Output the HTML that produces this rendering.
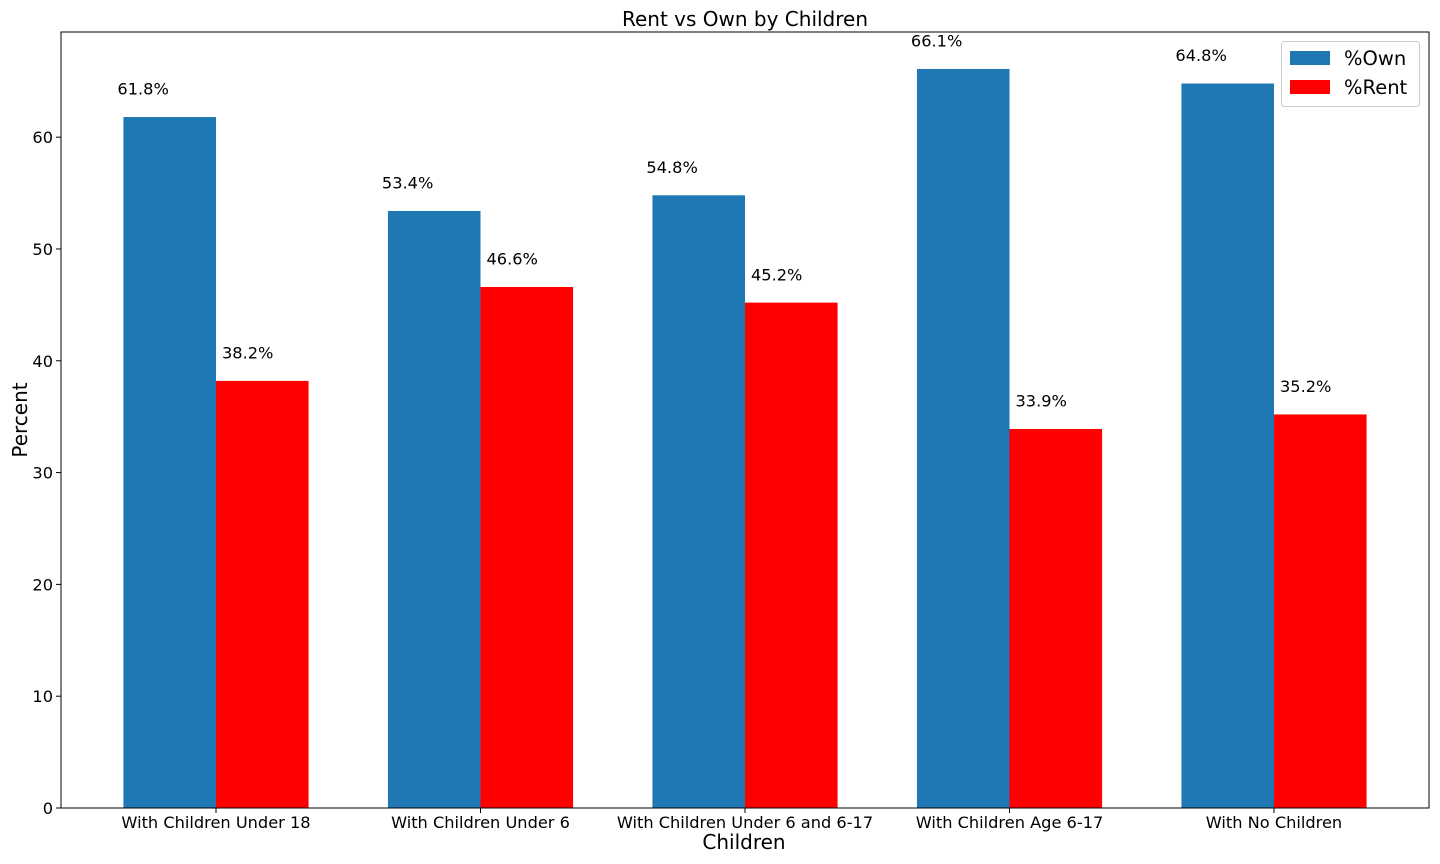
<!DOCTYPE html>
<html><head><meta charset="utf-8"><style>
html,body{margin:0;padding:0;background:#fff;}
svg{display:block;font-family:"DejaVu Sans","Liberation Sans",sans-serif;}
</style></head><body>
<svg id="chart" width="1440" height="864">
<text x="745" y="26" font-size="20" text-anchor="middle">Rent vs Own by Children</text>
<g id="bars"></g>
<g id="yticks"></g>
<g id="xticks"></g>
<rect x="61" y="32" width="1368" height="776" fill="none" stroke="#000" stroke-width="1"/>
<text x="744" y="849" font-size="20" text-anchor="middle">Children</text>
<text transform="translate(27,420) rotate(-90)" font-size="20" text-anchor="middle">Percent</text>
<g>
<rect x="1281.5" y="41.5" width="138" height="65" rx="3" fill="#fff" stroke="#ccc"/>
<rect x="1290" y="51" width="40" height="14" fill="#1f77b4"/>
<text x="1344" y="65" font-size="19.5">%Own</text>
<rect x="1290" y="80" width="40" height="14" fill="#ff0000"/>
<text x="1344" y="94" font-size="19.5">%Rent</text>
</g>
</svg>
<script>
const categories = ["With Children Under 18","With Children Under 6","With Children Under 6 and 6-17","With Children Age 6-17","With No Children"];
const ownValues = [61.8, 53.4, 54.8, 66.1, 64.8];
const rentValues = [38.2, 46.6, 45.2, 33.9, 35.2];
const yTicks = [0,10,20,30,40,50,60];

const NS="http://www.w3.org/2000/svg";
const plotL=61, plotR=1429, plotT=32, plotB=808;
const yMax=69.405;
const xMin=-0.586, xMax=categories.length-1+0.586;
const barW=0.35;
function xs(v){return plotL+(v-xMin)/(xMax-xMin)*(plotR-plotL);}
function ys(v){return plotB-v/yMax*(plotB-plotT);}
function mk(tag,attrs,parent){const e=document.createElementNS(NS,tag);for(const k in attrs)e.setAttribute(k,attrs[k]);parent.appendChild(e);return e;}
const bars=document.getElementById('bars'), yt=document.getElementById('yticks'), xt=document.getElementById('xticks');
const series=[{vals:ownValues,color:"#1f77b4",off:-barW,name:"own",dx:-6},{vals:rentValues,color:"#ff0000",off:0,name:"rent",dx:6}];
series.forEach(s=>{
  s.vals.forEach((v,i)=>{
    const x0=xs(i+s.off), x1=xs(i+s.off+barW);
    const r=mk('rect',{x:x0,y:ys(v),width:x1-x0,height:plotB-ys(v),fill:s.color},bars);
    
    
    const t=mk('text',{x:x0+s.dx,y:ys(v+2),'font-size':16.2},bars);
    t.textContent=v.toFixed(1)+'%';
    
    
  });
});
yTicks.forEach(v=>{
  const y=ys(v);
  const l=mk('line',{x1:plotL-5,x2:plotL,y1:y,y2:y,stroke:'#000'},yt);
  
  
  const t=mk('text',{x:plotL-8,y:y+6,'font-size':16.2,'text-anchor':'end'},yt);
  t.textContent=v;
  
  
});
categories.forEach((c,i)=>{
  const x=xs(i);
  const l=mk('line',{x1:x,x2:x,y1:plotB,y2:plotB+5,stroke:'#000'},xt);
  
  
  const t=mk('text',{x:x,y:plotB+20,'font-size':16.2,'text-anchor':'middle'},xt);
  t.textContent=c;
  
  
});
</script>
</body></html>
